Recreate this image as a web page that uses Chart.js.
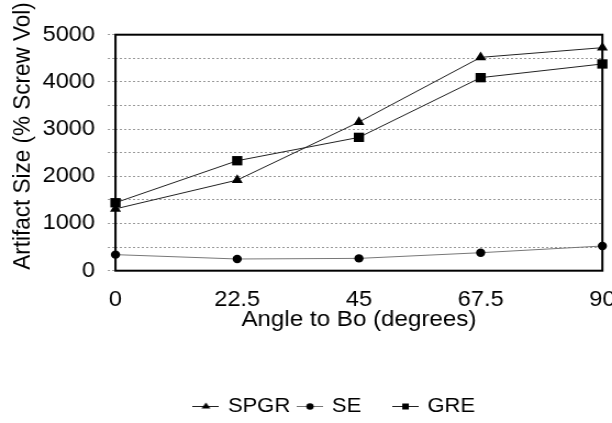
<!DOCTYPE html>
<html>
<head>
<meta charset="utf-8">
<script src="https://cdn.jsdelivr.net/npm/chart.js@4.4.1/dist/chart.umd.min.js"></script>
<style>
  html, body { margin: 0; padding: 0; background: #fff; overflow: hidden; }
  #wrap { width: 612px; height: 423px; overflow: hidden; }
  /* the original figure is a little wider than tall, stretch it the same way */
  canvas { transform: scaleX(1.0988); transform-origin: 0 0; }
</style>
</head>
<body>
<div id="wrap"><canvas id="artifactChart" width="557" height="423"></canvas></div>
<script>
const angles = [0, 22.5, 45, 67.5, 90];
const spgr = [1310, 1920, 3150, 4520, 4725];
const se = [340, 248, 261, 381, 523];
const gre = [1440, 2330, 2825, 4090, 4380];

const xTicks = [0, 22.5, 45, 67.5, 90];
const yGrid = [0, 500, 1000, 1500, 2000, 2500, 3000, 3500, 4000, 4500, 5000];
const yLabelled = [0, 1000, 2000, 3000, 4000, 5000];

const seriesNames = ['SPGR', 'SE', 'GRE'];
const FONT = 'Liberation Sans, Arial, Helvetica, sans-serif';

function toPoints(values) {
    return angles.map((a, i) => ({ x: a, y: values[i] }));
}

// little "line + marker" icons for the legend
function makeIcon(style, lineColor) {
    const c = document.createElement('canvas');
    c.width = 24;
    c.height = 12;
    const g = c.getContext('2d');
    g.strokeStyle = lineColor;
    g.lineWidth = 1;
    g.beginPath();
    g.moveTo(0, 6.5);
    g.lineTo(24, 6.5);
    g.stroke();
    g.fillStyle = '#000';
    g.beginPath();
    if (style === 'triangle') {
        g.moveTo(12, 2.5);
        g.lineTo(16, 8.5);
        g.lineTo(8, 8.5);
        g.closePath();
    } else if (style === 'circle') {
        g.arc(12, 6.5, 3.3, 0, Math.PI * 2);
    } else {
        g.rect(9, 3.5, 6, 6);
    }
    g.fill();
    return c;
}

const legendIcons = [
    makeIcon('triangle', '#222'),
    makeIcon('circle', '#777'),
    makeIcon('rect', '#222')
];

const framePlugin = {
    id: 'frame',
    afterLayout(chart) {
        // let the y tick labels spill left of the (narrow) axis box
        chart.scales.y.left = 0;
    },
    beforeDatasetsDraw(chart) {
        const { ctx, chartArea: a } = chart;
        ctx.save();
        ctx.strokeStyle = '#000';
        ctx.lineWidth = 2;
        ctx.strokeRect(a.left, a.top, a.right - a.left, a.bottom - a.top);
        ctx.restore();
    }
};

const yTitlePlugin = {
    id: 'yTitle',
    afterDraw(chart) {
        const ctx = chart.ctx;
        ctx.save();
        ctx.translate(21.2, 136);
        ctx.rotate(-Math.PI / 2);
        ctx.font = '22.5px ' + FONT;
        ctx.fillStyle = '#000';
        ctx.textAlign = 'center';
        ctx.textBaseline = 'middle';
        ctx.fillText('Artifact Size (% Screw Vol)', 0, 0);
        ctx.restore();
    }
};

const ctx = document.getElementById('artifactChart').getContext('2d');

new Chart(ctx, {
    type: 'line',
    data: {
        datasets: [
            {
                label: seriesNames[0],
                data: toPoints(spgr),
                borderColor: '#222',
                borderWidth: 1,
                pointStyle: 'triangle',
                pointRadius: 5.8,
                pointBackgroundColor: '#000',
                pointBorderColor: '#000',
                pointBorderWidth: 0,
                clip: false
            },
            {
                label: seriesNames[1],
                data: toPoints(se),
                borderColor: '#777',
                borderWidth: 1,
                pointStyle: 'circle',
                pointRadius: 4.2,
                pointBackgroundColor: '#000',
                pointBorderColor: '#000',
                pointBorderWidth: 0,
                clip: false
            },
            {
                label: seriesNames[2],
                data: toPoints(gre),
                borderColor: '#222',
                borderWidth: 1,
                pointStyle: 'rect',
                pointRadius: 6.6,
                pointBackgroundColor: '#000',
                pointBorderColor: '#000',
                pointBorderWidth: 0,
                clip: false
            }
        ]
    },
    options: {
        responsive: false,
        animation: false,
        devicePixelRatio: 1,
        layout: { padding: { left: 61.6, right: 8.8, top: 34.7, bottom: -3 } },
        scales: {
            x: {
                type: 'linear',
                min: 0,
                max: 90,
                afterBuildTicks: s => { s.ticks = xTicks.map(v => ({ value: v })); },
                afterFit: s => { s.height = 117.3; s.paddingLeft = 0; s.paddingRight = 0; },
                grid: { display: false, drawTicks: false },
                border: { display: false },
                ticks: {
                    color: '#000',
                    padding: 16.4,
                    maxRotation: 0,
                    autoSkip: false,
                    font: { family: FONT, size: 21.5 }
                },
                title: {
                    display: true,
                    text: 'Angle to Bo (degrees)',
                    color: '#000',
                    font: { family: FONT, size: 22 },
                    padding: { top: 0, bottom: 54.8 }
                }
            },
            y: {
                min: 0,
                max: 5000,
                afterBuildTicks: s => { s.ticks = yGrid.map(v => ({ value: v })); },
                afterFit: s => { s.width = 43.5; },
                grid: {
                    color: '#999',
                    lineWidth: 1,
                    tickLength: 7,
                    tickColor: '#999',
                    tickBorderDash: [2, 2]
                },
                border: { display: false, dash: [2, 2] },
                ticks: {
                    color: '#000',
                    padding: 11.6,
                    autoSkip: false,
                    font: { family: FONT, size: 21.5 },
                    callback: v => (yLabelled.includes(v) ? String(v) : '')
                }
            }
        },
        elements: { line: { tension: 0 } },
        plugins: {
            legend: {
                position: 'bottom',
                labels: {
                    usePointStyle: true,
                    pointStyleWidth: 20,
                    padding: 8,
                    color: '#000',
                    font: { family: FONT, size: 20 },
                    generateLabels(chart) {
                        const items = Chart.defaults.plugins.legend.labels.generateLabels(chart);
                        items.forEach((item, i) => {
                            item.pointStyle = legendIcons[i];
                            // Excel-style column gap before the last entry
                            if (i === 1) item.text = item.text + '    ';
                        });
                        return items;
                    }
                }
            },
            tooltip: { enabled: false }
        }
    },
    plugins: [framePlugin, yTitlePlugin]
});
</script>
</body>
</html>
